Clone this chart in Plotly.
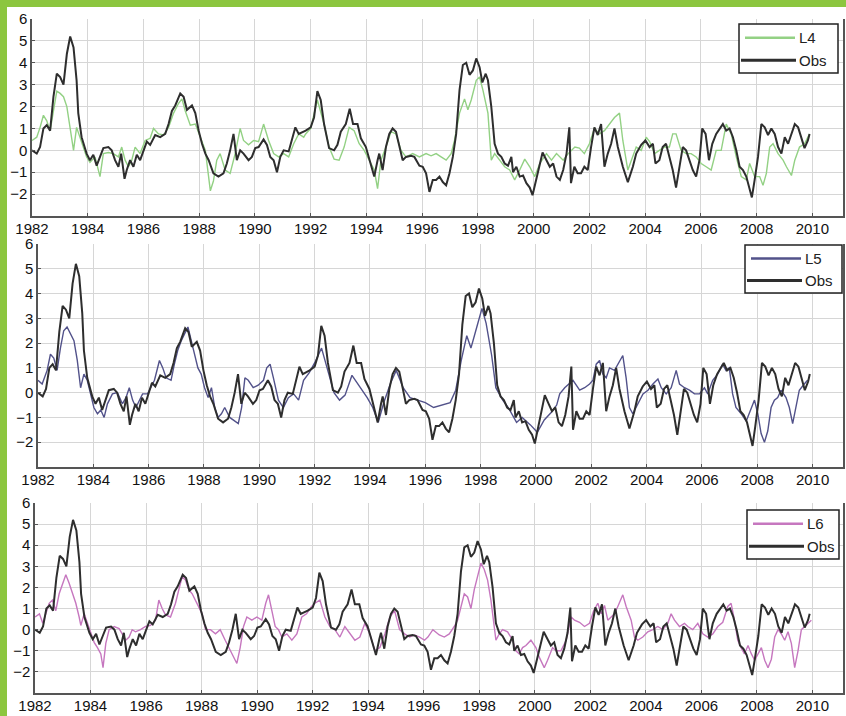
import plotly.graph_objects as go

# ---------------- data (decimal years, anomaly values) ----------------
obs_t = [1982.00,1982.17,1982.29,1982.41,1982.53,1982.65,1982.77,1982.89,1983.01,1983.13,1983.25,1983.37,1983.49,1983.60,1983.66,1983.78,1983.96,
         1984.08,1984.20,1984.32,1984.44,1984.56,1984.74,1984.86,1984.98,1985.10,1985.20,1985.32,1985.40,1985.52,1985.64,1985.76,1985.88,
         1986.00,1986.12,1986.24,1986.42,1986.60,1986.78,1986.90,1987.02,1987.14,1987.32,1987.44,1987.56,1987.74,1987.86,1987.98,
         1988.10,1988.22,1988.34,1988.51,1988.69,1988.87,1988.99,1989.11,1989.23,1989.35,1989.47,1989.59,1989.77,1989.89,
         1990.01,1990.13,1990.31,1990.43,1990.55,1990.67,1990.79,1990.91,1991.03,1991.21,1991.33,1991.45,1991.57,1991.75,1991.82,
         1992.00,1992.12,1992.24,1992.36,1992.48,1992.66,1992.84,1992.96,1993.08,1993.26,1993.40,1993.52,1993.68,1993.80,1993.98,
         1994.12,1994.28,1994.40,1994.46,1994.58,1994.70,1994.82,1994.94,1995.06,1995.18,1995.30,1995.42,1995.60,1995.72,1995.90,
         1996.02,1996.14,1996.26,1996.38,1996.50,1996.62,1996.74,1996.86,1996.98,1997.10,1997.22,1997.34,1997.46,1997.58,1997.70,1997.82,1997.94,
         1998.06,1998.16,1998.28,1998.36,1998.48,1998.60,1998.72,1998.84,1998.96,1999.08,1999.20,1999.26,1999.38,1999.50,1999.62,1999.74,1999.86,1999.96,
         2000.08,2000.20,2000.32,2000.46,2000.58,2000.70,2000.82,2000.94,2001.06,2001.18,2001.28,2001.34,2001.46,2001.58,2001.70,2001.82,2001.94,
         2002.06,2002.18,2002.30,2002.42,2002.54,2002.66,2002.78,2002.90,2003.02,2003.20,2003.38,2003.56,2003.68,2003.86,
         2004.01,2004.16,2004.28,2004.37,2004.51,2004.63,2004.75,2004.87,2004.99,2005.11,2005.23,2005.35,2005.47,2005.59,2005.71,2005.83,2005.95,
         2006.05,2006.17,2006.29,2006.41,2006.55,2006.67,2006.79,2006.91,2007.03,2007.15,2007.27,2007.39,2007.51,2007.63,2007.75,2007.83,2007.93,
         2008.05,2008.17,2008.29,2008.41,2008.53,2008.65,2008.77,2008.89,2009.01,2009.13,2009.25,2009.37,2009.49,2009.60,2009.72,2009.84,2009.90]
obs_v = [0.0,-0.15,0.15,1.0,1.15,0.9,2.45,3.5,3.35,3.0,4.4,5.2,4.7,3.2,1.7,0.6,-0.15,
         -0.45,-0.2,-0.7,-0.3,0.1,0.15,0.0,-0.45,-0.75,-0.15,-1.3,-0.9,-0.45,-0.75,-0.2,-0.45,
         0.0,0.4,0.25,0.7,0.6,0.75,1.2,1.8,2.05,2.6,2.45,1.85,2.05,1.7,0.9,
         0.3,-0.15,-0.45,-1.05,-1.2,-1.05,-0.6,0.0,0.75,-0.45,0.0,-0.15,-0.45,-0.3,
         0.1,0.15,0.5,0.25,-0.3,-0.45,-1.0,-0.3,0.0,-0.05,0.45,1.05,0.75,0.85,0.9,
         1.05,1.5,2.7,2.3,1.2,0.1,0.0,0.25,0.85,1.2,1.9,1.2,1.2,0.55,0.15,
         -0.45,-1.2,-0.45,-0.15,-0.9,0.15,0.75,1.0,0.85,0.15,-0.45,-0.3,-0.25,-0.3,-0.7,
         -0.75,-1.05,-1.9,-1.35,-1.35,-1.2,-1.45,-1.6,-1.05,-0.3,0.75,2.75,3.9,4.0,3.45,3.65,4.2,
         3.8,3.1,3.5,3.2,2.0,0.3,-0.15,-0.3,-0.6,-0.7,-0.3,-1.0,-0.75,-1.2,-1.15,-1.5,-1.7,-2.05,
         -1.35,-0.75,-0.1,-0.45,-0.75,-0.6,-1.2,-1.35,-0.9,-0.15,1.05,-1.5,-0.75,-1.05,-1.05,-0.75,-0.9,
         0.15,1.05,0.7,1.2,-0.75,-0.15,0.3,1.0,0.15,-0.75,-1.45,-0.75,-0.15,0.25,
         0.45,0.15,0.3,-0.6,-0.45,0.15,0.3,-0.3,-0.9,-1.7,-0.75,0.15,0.0,-0.45,-0.9,-1.2,-0.45,
         1.0,0.75,-0.45,0.3,0.75,1.0,1.2,0.9,1.0,0.6,0.0,-0.75,-0.9,-1.2,-1.85,-2.15,-1.35,
         -0.3,1.2,1.05,0.7,1.0,0.75,0.15,-0.15,0.6,0.3,0.75,1.2,1.05,0.6,0.1,0.45,0.75]

l4_t = [1982.00,1982.17,1982.29,1982.41,1982.53,1982.65,1982.77,1982.89,1983.01,1983.13,1983.25,1983.37,1983.49,1983.60,1983.72,1983.84,1983.96,
        1984.08,1984.26,1984.44,1984.56,1984.74,1984.92,1985.10,1985.22,1985.34,1985.46,1985.58,1985.70,1985.88,
        1986.06,1986.24,1986.36,1986.54,1986.72,1986.90,1987.08,1987.26,1987.38,1987.50,1987.68,1987.86,
        1988.04,1988.22,1988.40,1988.51,1988.63,1988.75,1988.93,1989.11,1989.29,1989.47,1989.59,1989.77,1989.95,
        1990.13,1990.31,1990.49,1990.67,1990.85,1991.03,1991.21,1991.39,1991.57,1991.75,1991.82,
        1992.00,1992.24,1992.48,1992.66,1992.84,1993.02,1993.20,1993.38,1993.56,1993.74,1993.92,
        1994.10,1994.28,1994.40,1994.52,1994.70,1994.88,1995.06,1995.24,1995.42,1995.66,1995.90,
        1996.14,1996.32,1996.50,1996.68,1996.86,1997.04,1997.16,1997.34,1997.52,1997.64,1997.76,1997.94,
        1998.06,1998.18,1998.36,1998.48,1998.60,1998.78,1998.96,1999.14,1999.32,1999.50,1999.68,1999.86,
        2000.04,2000.22,2000.46,2000.64,2000.82,2001.06,2001.24,2001.48,2001.64,2001.82,
        2002.00,2002.18,2002.36,2002.54,2002.72,2002.90,2003.08,2003.20,2003.38,2003.50,2003.68,2003.86,
        2004.04,2004.16,2004.34,2004.51,2004.69,2004.87,2004.99,2005.11,2005.29,2005.47,2005.65,2005.83,
        2006.01,2006.19,2006.37,2006.55,2006.73,2006.91,2007.09,2007.27,2007.45,2007.63,2007.75,2007.93,
        2008.11,2008.23,2008.35,2008.47,2008.59,2008.77,2008.95,2009.07,2009.25,2009.37,2009.54,2009.72,2009.90]
l4_v = [0.45,0.6,1.05,1.6,1.35,0.9,1.8,2.7,2.6,2.45,2.0,1.05,0.0,1.05,0.6,0.15,-0.3,
        -0.55,-0.3,-1.2,-0.15,-0.1,-0.15,-0.3,0.15,-0.45,-0.75,-0.45,0.15,-0.15,
        0.45,0.55,1.0,0.75,0.7,1.05,1.7,2.15,2.35,1.8,1.15,1.2,
        0.6,0.0,-1.85,-1.4,-0.45,-0.15,-0.9,-1.05,-0.15,1.0,0.45,0.25,0.45,
        0.4,1.2,0.45,-0.15,-0.3,-0.15,-0.3,0.3,0.75,0.6,0.75,
        1.0,2.3,1.2,0.15,-0.4,-0.45,0.15,1.05,0.9,0.3,0.0,
        -0.45,-0.9,-1.75,-0.45,0.15,0.85,0.75,0.0,-0.3,-0.15,-0.3,
        -0.15,-0.25,-0.15,-0.3,-0.45,-0.15,0.45,1.7,2.35,1.85,2.3,3.2,
        3.35,2.75,1.7,-0.45,-0.15,-0.45,-0.75,-0.9,-1.35,-0.9,-0.4,-0.75,
        -1.2,-0.6,-0.15,-0.45,-0.15,-0.45,-0.15,0.15,0.1,-0.15,
        0.3,1.0,0.75,0.9,1.2,1.5,1.7,0.45,-0.9,-0.45,0.15,0.0,
        0.6,0.4,-0.15,0.0,0.15,0.15,0.75,0.75,0.0,-0.15,-0.15,-0.3,
        -0.6,-0.75,-0.9,0.0,0.0,1.2,0.75,-0.3,-1.2,-1.35,-0.6,-1.2,
        -1.2,-1.6,-1.05,0.15,0.3,-0.15,-0.45,-0.75,-1.15,-0.45,0.15,0.3,0.75]

l5_t = [1982.00,1982.15,1982.33,1982.45,1982.57,1982.69,1982.81,1982.93,1983.05,1983.18,1983.30,1983.42,1983.54,1983.66,1983.78,1983.90,
        1984.02,1984.15,1984.27,1984.39,1984.51,1984.69,1984.87,1985.05,1985.18,1985.30,1985.42,1985.54,1985.66,1985.78,1985.96,
        1986.08,1986.21,1986.39,1986.51,1986.63,1986.81,1986.93,1987.05,1987.18,1987.30,1987.42,1987.54,1987.66,1987.78,1987.90,
        1988.02,1988.15,1988.27,1988.39,1988.51,1988.63,1988.75,1988.93,1989.12,1989.24,1989.36,1989.48,1989.60,1989.78,1989.96,
        1990.15,1990.27,1990.39,1990.51,1990.69,1990.87,1991.05,1991.24,1991.42,1991.60,1991.80,
        1992.00,1992.25,1992.50,1992.70,1992.90,1993.10,1993.35,1993.60,1993.90,1994.10,1994.30,1994.50,1994.75,1994.95,
        1995.20,1995.45,1995.70,1996.00,1996.30,1996.60,1996.90,1997.10,1997.30,1997.50,1997.65,1997.85,1998.05,1998.20,1998.40,1998.55,1998.80,
        1999.00,1999.30,1999.50,1999.80,2000.05,2000.30,2000.55,2000.75,
        2000.86,2001.04,2001.34,2001.58,2001.76,2001.94,2002.06,2002.18,2002.30,2002.42,2002.54,2002.66,2002.84,2003.02,2003.14,2003.26,2003.38,2003.50,2003.68,2003.87,
        2004.05,2004.23,2004.41,2004.53,2004.71,2004.89,2005.07,2005.19,2005.37,2005.55,2005.73,2005.91,
        2006.09,2006.21,2006.39,2006.57,2006.75,2006.87,2006.99,2007.11,2007.23,2007.42,2007.60,2007.78,2007.90,
        2008.02,2008.14,2008.26,2008.38,2008.50,2008.62,2008.74,2008.86,2009.04,2009.16,2009.28,2009.40,2009.52,2009.70,2009.82]
l5_v = [0.5,0.35,0.9,1.55,1.4,0.9,1.8,2.5,2.65,2.35,2.1,1.3,0.2,0.75,0.5,-0.05,
        -0.6,-0.85,-0.7,-1.0,-0.45,-0.05,0.0,-0.45,-0.2,0.2,-0.3,-0.6,-0.3,-0.05,-0.05,
        0.2,0.5,1.3,1.0,0.6,0.5,1.15,1.7,2.1,2.35,2.65,2.1,1.55,1.0,0.75,
        0.2,-0.2,0.2,-0.6,-1.0,-0.85,-0.6,-1.0,-1.15,-1.25,-0.6,0.6,0.5,0.2,0.3,
        0.5,1.0,1.15,0.6,-0.3,-0.6,-0.2,-0.05,-0.3,0.5,0.8,
        1.2,1.8,0.8,0.0,-0.3,-0.1,0.7,0.3,-0.2,-0.6,-1.2,-0.4,0.4,0.9,
        0.2,-0.2,-0.3,-0.4,-0.6,-0.5,-0.4,0.1,1.3,2.3,1.8,2.6,3.4,2.8,1.5,0.2,-0.3,
        -0.6,-1.2,-1.0,-1.3,-1.6,-1.1,-0.8,-0.5,
        -0.05,0.2,0.5,0.1,0.2,0.35,0.5,1.15,1.3,0.75,0.6,1.0,0.9,1.3,1.5,0.6,-0.6,-0.85,-0.45,-0.05,
        0.1,0.35,0.55,0.2,-0.05,0.2,0.9,0.35,0.2,0.1,-0.05,-0.05,
        0.2,-0.05,0.5,0.75,1.15,0.9,1.0,-0.05,-0.6,-0.85,-1.15,-0.6,-0.3,
        -0.85,-1.65,-2.0,-1.55,-0.6,-0.3,-0.2,0.1,-0.2,-0.6,-1.25,-0.6,0.1,0.35,0.5]

l6_t = [1982.00,1982.16,1982.28,1982.39,1982.51,1982.63,1982.75,1982.87,1982.99,1983.11,1983.23,1983.35,1983.47,1983.59,1983.65,1983.77,1983.89,
        1984.01,1984.13,1984.25,1984.37,1984.45,1984.55,1984.67,1984.85,1985.03,1985.15,1985.27,1985.39,1985.50,1985.62,1985.80,1985.98,
        1986.16,1986.34,1986.46,1986.58,1986.70,1986.88,1987.06,1987.18,1987.30,1987.42,1987.54,1987.66,1987.84,
        1988.02,1988.14,1988.32,1988.50,1988.67,1988.85,1989.03,1989.15,1989.27,1989.39,1989.51,1989.63,1989.81,1989.99,
        1990.17,1990.31,1990.41,1990.53,1990.65,1990.77,1990.89,1991.07,1991.25,1991.43,1991.61,1991.78,1991.96,
        1992.08,1992.26,1992.44,1992.62,1992.80,1992.98,1993.16,1993.34,1993.52,1993.70,1993.88,
        1994.06,1994.24,1994.42,1994.60,1994.78,1994.95,1995.13,1995.31,1995.49,1995.67,1995.85,
        1996.03,1996.15,1996.33,1996.56,1996.74,1996.92,1997.10,1997.22,1997.34,1997.46,1997.58,1997.70,1997.82,1997.94,
        1998.06,1998.18,1998.30,1998.42,1998.54,1998.60,1998.72,1998.84,1999.02,1999.20,1999.32,1999.44,1999.56,1999.68,1999.86,
        2000.04,2000.16,2000.34,2000.46,2000.64,2000.76,2000.94,2001.13,2001.31,2001.43,2001.61,2001.79,2001.97,
        2002.12,2002.27,2002.39,2002.51,2002.63,2002.75,2002.87,2002.99,2003.17,2003.29,2003.47,2003.59,2003.71,2003.89,
        2004.07,2004.25,2004.43,2004.61,2004.79,2004.91,2005.03,2005.21,2005.39,2005.51,2005.69,2005.87,
        2006.05,2006.23,2006.41,2006.59,2006.77,2006.95,2007.07,2007.19,2007.31,2007.43,2007.55,2007.68,2007.80,2007.92,
        2008.04,2008.16,2008.28,2008.40,2008.52,2008.64,2008.76,2008.88,2009.00,2009.12,2009.24,2009.36,2009.48,2009.60,2009.72,2009.84,2009.96]
l6_v = [0.6,0.75,0.3,0.75,1.25,1.4,0.9,1.7,2.2,2.6,2.2,1.7,1.25,0.6,0.2,0.75,0.3,
        -0.2,-0.6,-0.85,-1.15,-1.8,-0.65,0.0,0.15,0.05,-0.2,-0.5,-0.35,0.0,-0.1,0.0,0.15,
        0.2,0.45,1.4,1.0,0.7,0.6,1.25,1.9,2.5,2.35,1.9,1.7,1.25,
        0.75,0.0,0.0,-0.2,0.0,-0.5,-1.0,-1.3,-1.6,-0.85,0.15,0.6,0.45,0.6,
        0.45,1.25,1.65,0.9,0.15,0.0,-0.35,-0.2,-0.5,-0.2,0.6,0.75,1.1,
        1.25,1.4,0.6,0.15,0.0,-0.35,0.15,-0.2,-0.5,-0.35,0.3,
        -0.2,-1.0,-0.85,-0.2,0.6,0.9,0.0,-0.2,-0.35,-0.25,-0.35,
        -0.5,-0.35,0.0,-0.25,-0.35,-0.2,0.15,0.45,1.1,1.7,1.55,1.0,1.9,2.5,
        3.15,2.85,2.35,1.4,0.15,-0.5,-0.2,0.0,-0.1,-0.5,-1.0,-1.15,-0.85,-0.75,-0.5,
        -0.85,-1.3,-1.8,-1.45,-0.85,-1.0,-1.0,-0.5,0.6,0.45,0.35,0.15,0.3,
        0.9,1.25,0.75,1.15,0.45,0.6,0.75,1.1,1.65,1.1,0.45,-0.35,-0.5,-0.35,
        -0.1,0.0,0.15,0.0,0.3,0.75,0.45,0.15,0.3,0.15,0.0,0.3,
        -0.2,-0.35,-0.2,0.15,0.35,1.1,1.25,0.45,-0.5,-0.85,-1.15,-0.75,-1.15,-1.45,
        -1.15,-0.85,-1.45,-1.8,-1.4,-0.35,0.0,-0.2,-0.5,-0.1,-0.65,-1.8,-1.0,0.0,0.15,0.3,0.45]

x_ticks = list(range(1982, 2011, 2))
y_ticks = [-2, -1, 0, 1, 2, 3, 4, 5, 6]

# ---------------- styling / layout ----------------
W, H = 846, 716
GREEN_BG = "#8cc63f"
OBS_COLOR = "#2e2e2e"
model_series = [("L4", l4_t, l4_v, "#93d184"),
                ("L5", l5_t, l5_v, "#52528a"),
                ("L6", l6_t, l6_v, "#c677bf")]
# pixel boxes of the three plot areas (left, right, top, bottom)
boxes = [(32, 843, 19, 216), (38, 843, 244, 467), (35, 843, 503, 693)]
# legend boxes (left, right, top, bottom)
leg_boxes = [(739, 838, 24, 73), (745, 842, 245, 293), (747, 839, 510, 559)]

def px(x):
    return x / W

def py(y):
    return 1 - y / H

fig = go.Figure()
shapes = []
annotations = []
tick_font = dict(family="Liberation Sans, Arial", size=15, color="#111111")
leg_font = dict(family="Liberation Sans Narrow, Liberation Sans, Arial", size=15, color="#222222")

for i, (name, mt, mv, col) in enumerate(model_series):
    n = "" if i == 0 else str(i + 1)
    xa, ya = "x" + n, "y" + n
    fig.add_trace(go.Scatter(x=mt, y=mv, mode="lines", name=name, showlegend=False,
                             line=dict(color=col, width=1.4), xaxis=xa, yaxis=ya))
    fig.add_trace(go.Scatter(x=obs_t, y=obs_v, mode="lines", name="Obs", showlegend=False,
                             line=dict(color=OBS_COLOR, width=2), xaxis=xa, yaxis=ya))
    l, r, t, b = boxes[i]
    fig.layout["xaxis" + n] = dict(domain=[px(l), px(r)], range=[1982, 2011.1], anchor=ya,
                                   tickvals=x_ticks, showgrid=True, gridcolor="#d6d6d6", gridwidth=1,
                                   showline=True, linecolor="#555555", linewidth=1.5, mirror=False,
                                   ticks="inside", ticklen=3, tickcolor="#555555",
                                   tickfont=tick_font, automargin=False, ticklabelstandoff=-2,
                                   zeroline=False, fixedrange=True)
    fig.layout["yaxis" + n] = dict(domain=[py(b), py(t)], range=[-3, 6], anchor=xa,
                                   tickvals=y_ticks, showgrid=True, gridcolor="#d6d6d6", gridwidth=1,
                                   showline=True, linecolor="#555555", linewidth=1.5, mirror=True,
                                   ticks="inside", ticklen=3, tickcolor="#555555",
                                   tickfont=tick_font, automargin=False,
                                   zeroline=False, fixedrange=True)
    # legend box
    lx0, lx1, ly0, ly1 = leg_boxes[i]
    shapes.append(dict(type="rect", xref="paper", yref="paper", x0=px(lx0), x1=px(lx1), y0=py(ly1), y1=py(ly0),
                       line=dict(color="#222222", width=1.5), fillcolor="white", layer="above"))
    r1 = ly0 + (ly1 - ly0) * 0.28
    r2 = ly0 + (ly1 - ly0) * 0.74
    shapes.append(dict(type="line", xref="paper", yref="paper", x0=px(lx0 + 6), x1=px(lx0 + 56), y0=py(r1), y1=py(r1),
                       line=dict(color=col, width=2.5), layer="above"))
    shapes.append(dict(type="line", xref="paper", yref="paper", x0=px(lx0 + 2), x1=px(lx0 + 57), y0=py(r2), y1=py(r2),
                       line=dict(color=OBS_COLOR, width=3), layer="above"))
    annotations.append(dict(xref="paper", yref="paper", x=px(lx0 + 58), y=py(r1), text=name, showarrow=False,
                            xanchor="left", yanchor="middle", font=leg_font))
    annotations.append(dict(xref="paper", yref="paper", x=px(lx0 + 58), y=py(r2), text="Obs", showarrow=False,
                            xanchor="left", yanchor="middle", font=leg_font))

# green frame strips (left and top)
shapes.append(dict(type="rect", xref="paper", yref="paper", x0=0, x1=px(7), y0=0, y1=1,
                   line=dict(width=0), fillcolor=GREEN_BG, layer="below"))
shapes.append(dict(type="rect", xref="paper", yref="paper", x0=0, x1=1, y0=py(7), y1=1,
                   line=dict(width=0), fillcolor=GREEN_BG, layer="below"))

fig.update_layout(width=W, height=H, margin=dict(l=0, r=0, t=0, b=0, autoexpand=False),
                  paper_bgcolor="white", plot_bgcolor="white",
                  shapes=shapes, annotations=annotations, showlegend=False)

fig.write_html("out.html", config={"displayModeBar": False},
               post_script="document.body.style.margin='0';document.body.style.padding='0';"
                           "document.documentElement.style.overflow='hidden';")
